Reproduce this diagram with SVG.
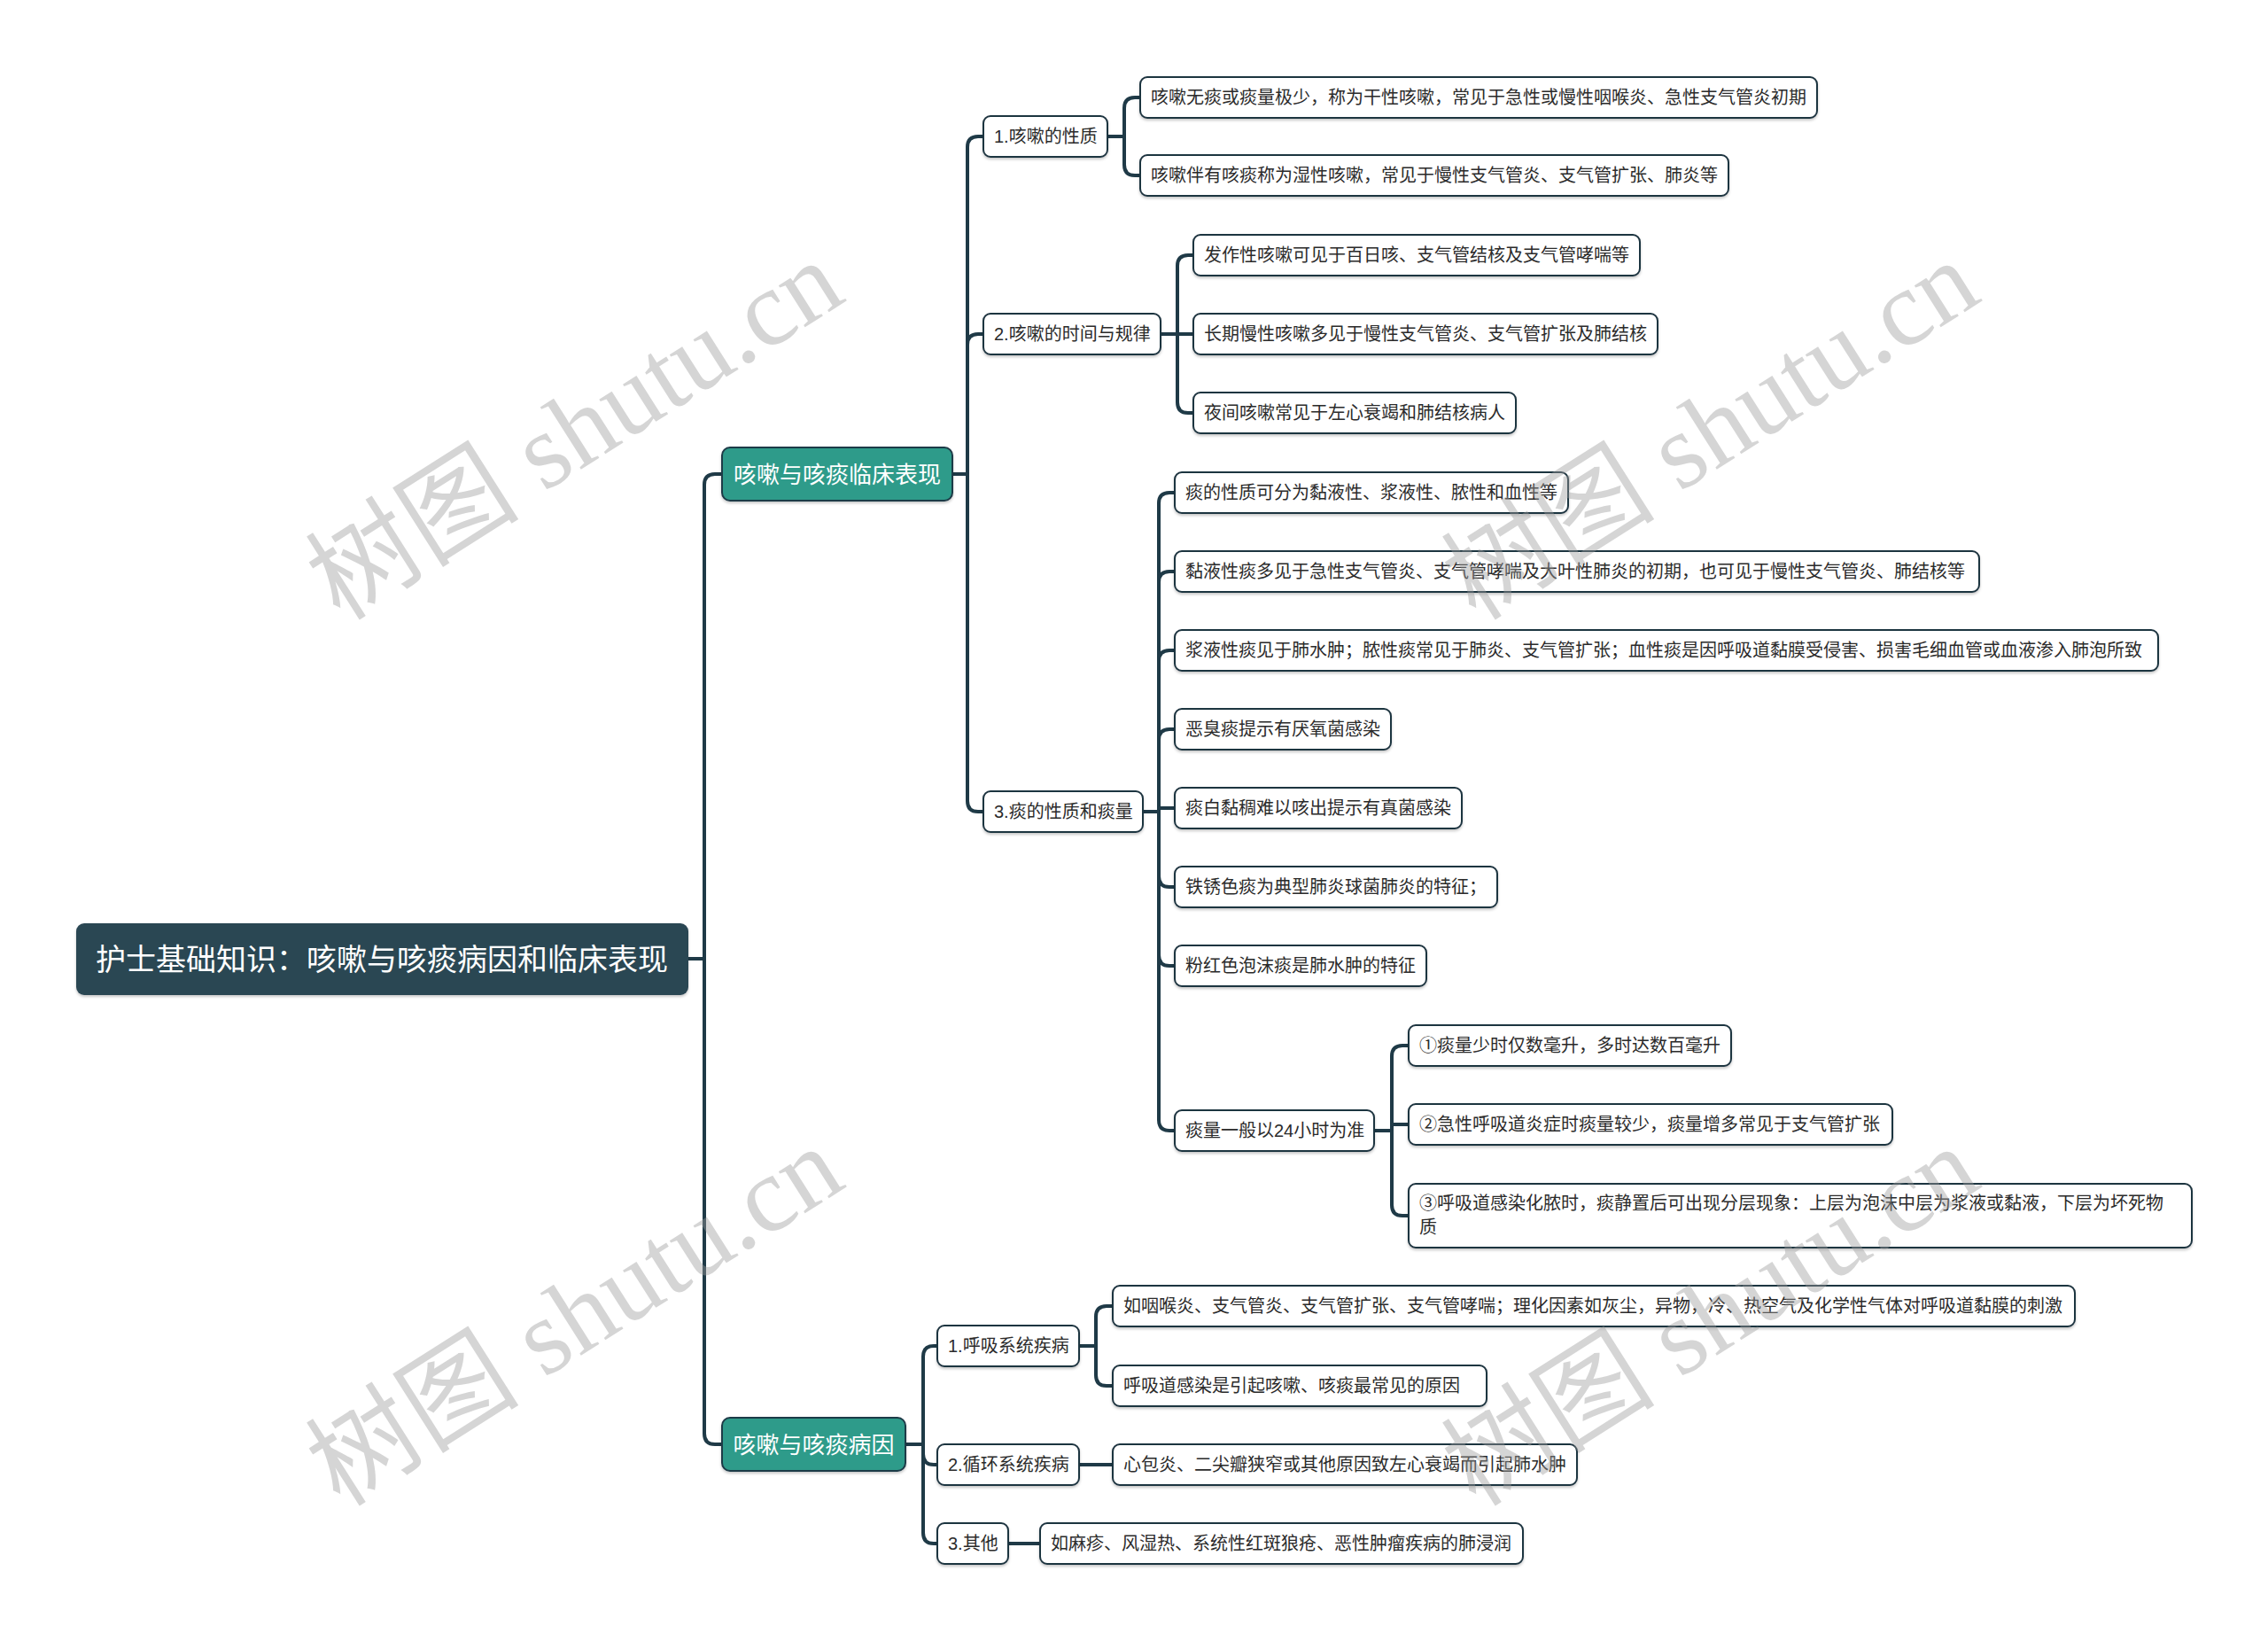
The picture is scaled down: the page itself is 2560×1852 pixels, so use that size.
<svg xmlns="http://www.w3.org/2000/svg" width="2560" height="1852" viewBox="0 0 2560 1852">
<style>
.bg{fill:#ffffff}
.conn path{fill:none;stroke:#1f3a47;stroke-width:4;stroke-linecap:round;stroke-linejoin:round}
.root rect{fill:#2b4653}
.root text{fill:#ffffff;font-size:34px;text-anchor:middle}
.l1 rect{fill:#2e9b8a;stroke:#1f3a47;stroke-width:2}
.l1 text{fill:#ffffff;font-size:26px;text-anchor:middle}
.n rect{fill:#ffffff;stroke:#1f3440;stroke-width:2}
.n text{fill:#2b2b2b;font-size:20px}
text{font-family:"Liberation Sans","Noto Sans CJK SC",sans-serif}
.wm{font-family:"Liberation Serif","Noto Sans CJK SC",serif;font-size:121px;fill:#9a9a9a;fill-opacity:0.42}
</style>
<defs>
<filter id="sh" x="-5%" y="-20%" width="110%" height="150%">
<feDropShadow dx="0" dy="2" stdDeviation="1.5" flood-color="#000" flood-opacity="0.22"/>
</filter>
</defs>
<rect class="bg" x="0" y="0" width="2560" height="1852"/>

<g class="conn" id="connectors">
<path d="M777 1082 H795 V547 Q795 535 807 535 H815"/>
<path d="M777 1082 H795 V1618 Q795 1630 807 1630 H815"/>
<path d="M1075 535 H1092 V166 Q1092 154 1104 154 H1110"/>
<path d="M1075 535 H1092 V389 Q1092 377 1104 377 H1110"/>
<path d="M1075 535 H1092 V904 Q1092 916 1104 916 H1110"/>
<path d="M1250 154 H1269 V122 Q1269 110 1281 110 H1287"/>
<path d="M1250 154 H1269 V186 Q1269 198 1281 198 H1287"/>
<path d="M1310 377 H1329 V300 Q1329 288 1341 288 H1347"/>
<path d="M1310 377 H1347"/>
<path d="M1310 377 H1329 V454 Q1329 466 1341 466 H1347"/>
<path d="M1290 916 H1308 V568 Q1308 556 1320 556 H1326"/>
<path d="M1290 916 H1308 V657 Q1308 645 1320 645 H1326"/>
<path d="M1290 916 H1308 V746 Q1308 734 1320 734 H1326"/>
<path d="M1290 916 H1308 V835 Q1308 823 1320 823 H1326"/>
<path d="M1290 916 H1308 V912 H1326"/>
<path d="M1290 916 H1308 V989 Q1308 1001 1320 1001 H1326"/>
<path d="M1290 916 H1308 V1078 Q1308 1090 1320 1090 H1326"/>
<path d="M1290 916 H1308 V1264 Q1308 1276 1320 1276 H1326"/>
<path d="M1551 1276 H1571 V1192 Q1571 1180 1583 1180 H1590"/>
<path d="M1551 1276 H1571 V1269 H1590"/>
<path d="M1551 1276 H1571 V1360 Q1571 1372 1583 1372 H1590"/>
<path d="M1022 1630 H1042 V1531 Q1042 1519 1054 1519 H1058"/>
<path d="M1022 1630 H1042 V1641 Q1042 1653 1054 1653 H1058"/>
<path d="M1022 1630 H1042 V1730 Q1042 1742 1054 1742 H1058"/>
<path d="M1218 1519 H1237 V1486 Q1237 1474 1249 1474 H1256"/>
<path d="M1218 1519 H1237 V1552 Q1237 1564 1249 1564 H1256"/>
<path d="M1218 1653 H1256"/>
<path d="M1138 1742 H1174"/>
</g>

<g id="root" class="root">
<rect x="86" y="1042" width="691" height="81" rx="9" filter="url(#sh)"/>
<text x="431" y="1095">护士基础知识：咳嗽与咳痰病因和临床表现</text>
</g>

<g id="l1-clinical" class="l1">
<rect x="815" y="505" width="260" height="60" rx="9" filter="url(#sh)"/>
<text x="945" y="545">咳嗽与咳痰临床表现</text>
</g>
<g id="l1-cause" class="l1">
<rect x="815" y="1600" width="207" height="60" rx="9" filter="url(#sh)"/>
<text x="918.5" y="1640">咳嗽与咳痰病因</text>
</g>

<g id="n-nature" class="n"><rect x="1110" y="131" width="140" height="46" rx="8" filter="url(#sh)"/><text x="1122" y="161">1.咳嗽的性质</text></g>
<g id="n-nature-1" class="n"><rect x="1287" y="87" width="764" height="46" rx="8" filter="url(#sh)"/><text x="1299" y="117">咳嗽无痰或痰量极少，称为干性咳嗽，常见于急性或慢性咽喉炎、急性支气管炎初期</text></g>
<g id="n-nature-2" class="n"><rect x="1287" y="175" width="664" height="46" rx="8" filter="url(#sh)"/><text x="1299" y="205">咳嗽伴有咳痰称为湿性咳嗽，常见于慢性支气管炎、支气管扩张、肺炎等</text></g>

<g id="n-time" class="n"><rect x="1110" y="354" width="200" height="46" rx="8" filter="url(#sh)"/><text x="1122" y="384">2.咳嗽的时间与规律</text></g>
<g id="n-time-1" class="n"><rect x="1347" y="265" width="504" height="46" rx="8" filter="url(#sh)"/><text x="1359" y="295">发作性咳嗽可见于百日咳、支气管结核及支气管哮喘等</text></g>
<g id="n-time-2" class="n"><rect x="1347" y="354" width="524" height="46" rx="8" filter="url(#sh)"/><text x="1359" y="384">长期慢性咳嗽多见于慢性支气管炎、支气管扩张及肺结核</text></g>
<g id="n-time-3" class="n"><rect x="1347" y="443" width="364" height="46" rx="8" filter="url(#sh)"/><text x="1359" y="473">夜间咳嗽常见于左心衰竭和肺结核病人</text></g>

<g id="n-sputum" class="n"><rect x="1110" y="893" width="180" height="46" rx="8" filter="url(#sh)"/><text x="1122" y="923">3.痰的性质和痰量</text></g>
<g id="n-sputum-1" class="n"><rect x="1326" y="533" width="444" height="46" rx="8" filter="url(#sh)"/><text x="1338" y="563">痰的性质可分为黏液性、浆液性、脓性和血性等</text></g>
<g id="n-sputum-2" class="n"><rect x="1326" y="622" width="908" height="46" rx="8" filter="url(#sh)"/><text x="1338" y="652">黏液性痰多见于急性支气管炎、支气管哮喘及大叶性肺炎的初期，也可见于慢性支气管炎、肺结核等</text></g>
<g id="n-sputum-3" class="n"><rect x="1326" y="711" width="1110" height="46" rx="8" filter="url(#sh)"/><text x="1338" y="741">浆液性痰见于肺水肿；脓性痰常见于肺炎、支气管扩张；血性痰是因呼吸道黏膜受侵害、损害毛细血管或血液渗入肺泡所致</text></g>
<g id="n-sputum-4" class="n"><rect x="1326" y="800" width="244" height="46" rx="8" filter="url(#sh)"/><text x="1338" y="830">恶臭痰提示有厌氧菌感染</text></g>
<g id="n-sputum-5" class="n"><rect x="1326" y="889" width="324" height="46" rx="8" filter="url(#sh)"/><text x="1338" y="919">痰白黏稠难以咳出提示有真菌感染</text></g>
<g id="n-sputum-6" class="n"><rect x="1326" y="978" width="364" height="46" rx="8" filter="url(#sh)"/><text x="1338" y="1008">铁锈色痰为典型肺炎球菌肺炎的特征；</text></g>
<g id="n-sputum-7" class="n"><rect x="1326" y="1067" width="284" height="46" rx="8" filter="url(#sh)"/><text x="1338" y="1097">粉红色泡沫痰是肺水肿的特征</text></g>
<g id="n-amount" class="n"><rect x="1326" y="1253" width="225" height="46" rx="8" filter="url(#sh)"/><text x="1338" y="1283">痰量一般以24小时为准</text></g>
<g id="n-amount-1" class="n"><rect x="1590" y="1157" width="364" height="46" rx="8" filter="url(#sh)"/><text x="1602" y="1187">①痰量少时仅数毫升，多时达数百毫升</text></g>
<g id="n-amount-2" class="n"><rect x="1590" y="1246" width="546" height="46" rx="8" filter="url(#sh)"/><text x="1602" y="1276">②急性呼吸道炎症时痰量较少，痰量增多常见于支气管扩张</text></g>
<g id="n-amount-3" class="n"><rect x="1590" y="1336" width="884" height="72" rx="8" filter="url(#sh)"/><text x="1602" y="1365">③呼吸道感染化脓时，痰静置后可出现分层现象：上层为泡沫中层为浆液或黏液，下层为坏死物</text><text x="1602" y="1392">质</text></g>

<g id="n-resp" class="n"><rect x="1058" y="1496" width="160" height="46" rx="8" filter="url(#sh)"/><text x="1070" y="1526">1.呼吸系统疾病</text></g>
<g id="n-resp-1" class="n"><rect x="1256" y="1451" width="1086" height="46" rx="8" filter="url(#sh)"/><text x="1268" y="1481">如咽喉炎、支气管炎、支气管扩张、支气管哮喘；理化因素如灰尘，异物，冷、热空气及化学性气体对呼吸道黏膜的刺激</text></g>
<g id="n-resp-2" class="n"><rect x="1256" y="1541" width="422" height="46" rx="8" filter="url(#sh)"/><text x="1268" y="1571">呼吸道感染是引起咳嗽、咳痰最常见的原因</text></g>
<g id="n-circ" class="n"><rect x="1058" y="1630" width="160" height="46" rx="8" filter="url(#sh)"/><text x="1070" y="1660">2.循环系统疾病</text></g>
<g id="n-circ-1" class="n"><rect x="1256" y="1630" width="524" height="46" rx="8" filter="url(#sh)"/><text x="1268" y="1660">心包炎、二尖瓣狭窄或其他原因致左心衰竭而引起肺水肿</text></g>
<g id="n-other" class="n"><rect x="1058" y="1719" width="80" height="46" rx="8" filter="url(#sh)"/><text x="1070" y="1749">3.其他</text></g>
<g id="n-other-1" class="n"><rect x="1174" y="1719" width="545" height="46" rx="8" filter="url(#sh)"/><text x="1186" y="1749">如麻疹、风湿热、系统性红斑狼疮、恶性肿瘤疾病的肺浸润</text></g>

<g id="watermarks">
<text class="wm" transform="translate(384,702) rotate(-32.4)">树图 shutu.cn</text>
<text class="wm" transform="translate(1666,702) rotate(-32.4)">树图 shutu.cn</text>
<text class="wm" transform="translate(384,1702) rotate(-32.4)">树图 shutu.cn</text>
<text class="wm" transform="translate(1666,1702) rotate(-32.4)">树图 shutu.cn</text>
</g>
</svg>
